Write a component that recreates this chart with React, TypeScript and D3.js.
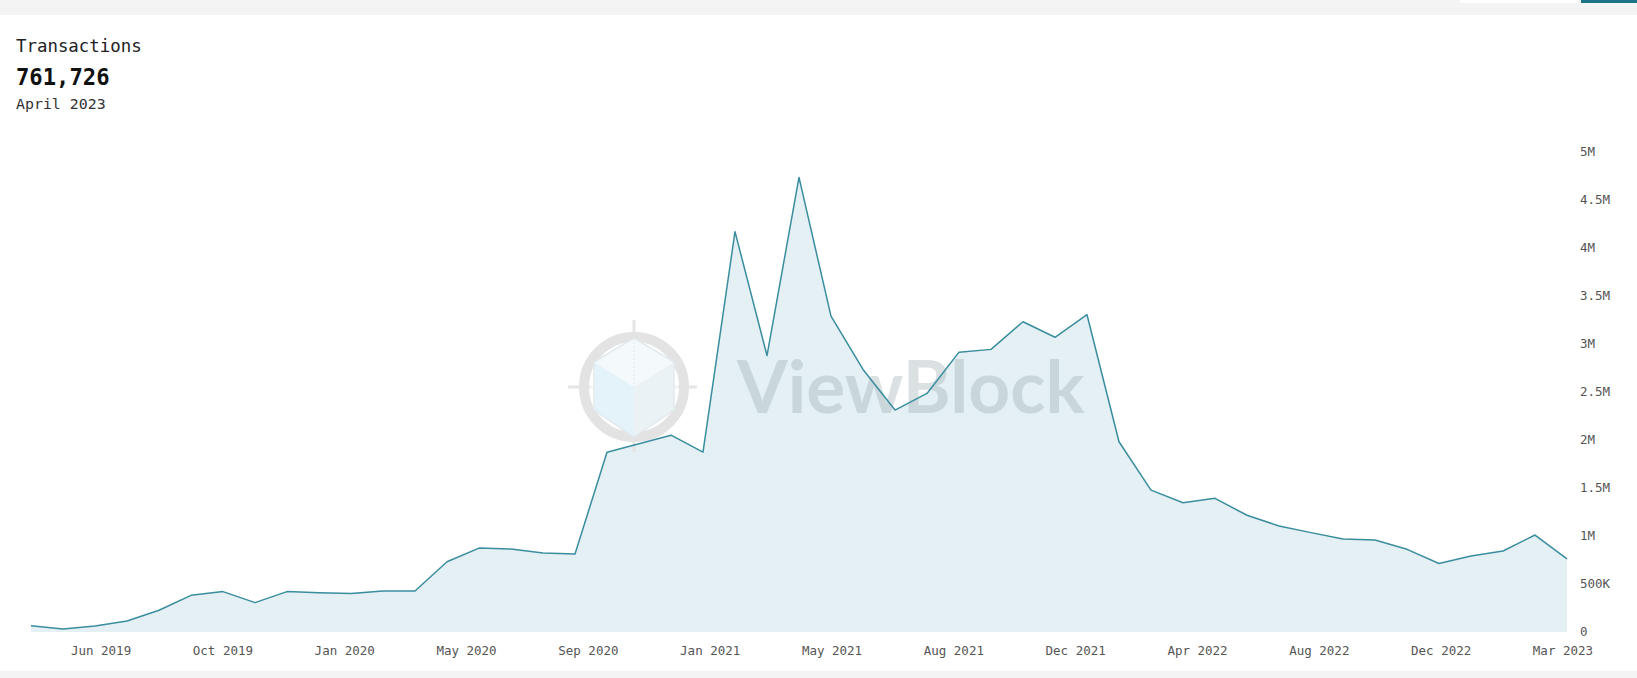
import React from "react";
import * as d3 from "d3";

const months: string[] = [
  "2019-04", "2019-05", "2019-06", "2019-07", "2019-08", "2019-09", "2019-10", "2019-11", "2019-12",
  "2020-01", "2020-02", "2020-03", "2020-04", "2020-05", "2020-06", "2020-07", "2020-08", "2020-09",
  "2020-10", "2020-11", "2020-12", "2021-01", "2021-02", "2021-03", "2021-04", "2021-05", "2021-06",
  "2021-07", "2021-08", "2021-09", "2021-10", "2021-11", "2021-12", "2022-01", "2022-02", "2022-03",
  "2022-04", "2022-05", "2022-06", "2022-07", "2022-08", "2022-09", "2022-10", "2022-11", "2022-12",
  "2023-01", "2023-02", "2023-03", "2023-04",
];

const transactions: number[] = [
  64000, 32000, 62000, 115000, 226000, 382000, 421000, 306000, 421000,
  410000, 400000, 427000, 427000, 732000, 874000, 864000, 822000, 812000,
  1872000, 1960000, 2050000, 1874000, 4170000, 2880000, 4735000, 3290000, 2735000,
  2312000, 2485000, 2915000, 2944000, 3232000, 3070000, 3305000, 1982000, 1478000,
  1347000, 1392000, 1216000, 1105000, 1035000, 969000, 958000, 861000, 713000,
  792000, 844000, 1010000, 761726,
];

const xTickLabels: string[] = [
  "Jun 2019", "Oct 2019", "Jan 2020", "May 2020", "Sep 2020", "Jan 2021", "May 2021",
  "Aug 2021", "Dec 2021", "Apr 2022", "Aug 2022", "Dec 2022", "Mar 2023",
];
const xTickStart = 2.19;
const xTickStep = 3.807;

const yTickValues: number[] = [0, 500000, 1000000, 1500000, 2000000, 2500000, 3000000, 3500000, 4000000, 4500000, 5000000];

const W = 1637;
const H = 678;
const MONO = "'DejaVu Sans Mono', 'Liberation Mono', monospace";

function fmtY(v: number): string {
  if (v === 0) return "0";
  if (v >= 1e6) return `${+(v / 1e6).toFixed(1)}M`;
  return `${Math.round(v / 1e3)}K`;
}

export default function App() {
  const x = d3.scaleLinear().domain([0, months.length - 1]).range([31, 1567]);
  const y = d3.scaleLinear().domain([0, 5000000]).range([632, 152]);

  const data = transactions.map((v, i) => ({ i, v }));
  const area = d3
    .area<{ i: number; v: number }>()
    .x((d) => x(d.i))
    .y0(y(0))
    .y1((d) => y(d.v));
  const line = d3
    .line<{ i: number; v: number }>()
    .x((d) => x(d.i))
    .y((d) => y(d.v));

  const latest = transactions[transactions.length - 1];
  const latestLabel = d3.timeFormat("%B %Y")(d3.timeParse("%Y-%m")(months[months.length - 1]) as Date);

  const cx = 634;
  const cy = 387;

  return (
    <svg
      width={W}
      height={H}
      style={{ position: "absolute", left: 0, top: 0, display: "block", background: "#fff" }}
    >
      <rect x={0} y={0} width={W} height={15} fill="#f4f4f4" />
      <rect x={1460} y={0} width={117} height={3} fill="#ffffff" />
      <rect x={1581} y={0} width={56} height={3} fill="#1b7384" />
      <rect x={0} y={671} width={W} height={7} fill="#f4f4f4" />

      <text x={16} y={52} fontFamily={MONO} fontSize={17.4} fill="#222">
        Transactions
      </text>
      <text x={16} y={85} fontFamily={MONO} fontSize={22.2} fontWeight="bold" fill="#111">
        {d3.format(",")(latest)}
      </text>
      <text x={16} y={109} fontFamily={MONO} fontSize={14.9} fill="#333">
        {latestLabel}
      </text>

      <path d={area(data) || ""} fill="#e4f0f3" />

      <g opacity={0.9}>
        <line x1={568} y1={cy} x2={697} y2={cy} stroke="#e3e3e3" strokeWidth={3} />
        <line x1={cx} y1={320} x2={cx} y2={452} stroke="#e3e3e3" strokeWidth={3} />
        <circle cx={cx} cy={cy} r={50} fill="none" stroke="#e0e0e0" strokeWidth={10} />
        <circle cx={cx} cy={cy} r={44} fill="#ffffff" opacity={0.6} />
        <polygon points={`${cx},${cy - 49} ${cx - 40},${cy - 25} ${cx},${cy} ${cx + 40},${cy - 25}`} fill="#f3f9fc" />
        <polygon points={`${cx - 40},${cy - 25} ${cx},${cy} ${cx},${cy + 50} ${cx - 40},${cy + 23}`} fill="#e2f2fa" />
        <polygon points={`${cx + 40},${cy - 25} ${cx},${cy} ${cx},${cy + 50} ${cx + 40},${cy + 23}`} fill="#e8f1f5" />
        <polygon
          points={`${cx},${cy - 49} ${cx - 40},${cy - 25} ${cx - 40},${cy + 23} ${cx},${cy + 50} ${cx + 40},${cy + 23} ${cx + 40},${cy - 25}`}
          fill="none"
          stroke="#dfe8ec"
          strokeWidth={1.5}
        />
        <line x1={cx} y1={cy - 49} x2={cx} y2={cy} stroke="#dde6ea" strokeWidth={1} strokeDasharray="2,2" />
        <text
          x={737}
          y={413}
          fontFamily="Lato, 'Open Sans', sans-serif"
          fontWeight="bold"
          fontSize={73}
          fill="#9aa9ae"
          opacity={0.38}
        >
          ViewBlock
        </text>
      </g>

      <path d={line(data) || ""} fill="none" stroke="#3a8d9e" strokeWidth={1.5} strokeLinejoin="round" />

      {yTickValues.map((v) => (
        <text key={v} x={1580} y={y(v)} dy="0.35em" fontFamily={MONO} fontSize={12.5} fill="#555">
          {fmtY(v)}
        </text>
      ))}

      {xTickLabels.map((lab, i) => (
        <text
          key={lab}
          x={x(xTickStart + i * xTickStep)}
          y={655}
          textAnchor="middle"
          fontFamily={MONO}
          fontSize={12.5}
          fill="#555"
        >
          {lab}
        </text>
      ))}
    </svg>
  );
}
